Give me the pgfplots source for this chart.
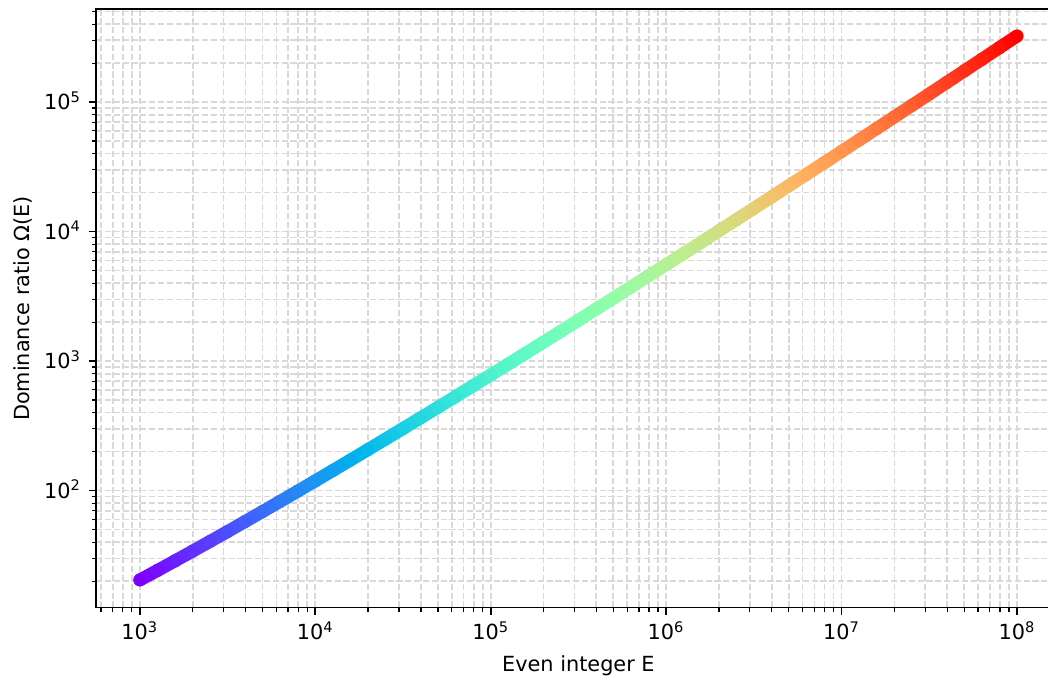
\documentclass[border=0pt]{standalone}
\usepackage{pgfplots}
\usepackage{pgfplotstable}
\pgfplotsset{compat=1.18}
\usepackage{fontspec}
\setmainfont{DejaVu Sans}

\pgfplotstableread{
L E O
3.0 1000 20.43
3.1 1258.9 24.18
3.2 1584.9 28.68
3.3 1995.3 34.07
3.4 2511.9 40.56
3.5 3162.3 48.35
3.6 3981.1 57.74
3.7 5011.9 69.04
3.8 6309.6 82.67
3.9 7943.3 99.12
4.0 10000 119.0
4.1 12589 143.0
4.2 15849 172.1
4.3 19953 207.3
4.4 25119 249.9
4.5 31623 301.6
4.6 39811 364.4
4.7 50119 440.6
4.8 63096 533.1
4.9 79433 645.7
5.0 100000 782.6
5.1 125893 949.3
5.2 158489 1152.2
5.3 199526 1399.6
5.4 251189 1701.2
5.5 316228 2069.2
5.6 398107 2518.3
5.7 501187 3066.7
5.8 630957 3736.6
5.9 794328 4555.6
6.0 1000000 5556.9
6.1 1258925 6781.9
6.2 1584893 8281.1
6.3 1995262 10116.7
6.4 2511886 12365
6.5 3162278 15120
6.6 3981072 18497
6.7 5011872 22638
6.8 6309573 27717
6.9 7943282 33950
7.0 10000000 41601
7.1 12589254 50996
7.2 15848932 62536
7.3 19952623 76715
7.4 25118864 94146
7.5 31622777 115567
7.6 39810717 141917
7.7 50118723 174329
7.8 63095734 214213
7.9 79432823 263303
8.0 100000000 323740
}\data

\pgfplotsset{
  colormap={mplrainbow}{
    rgb=(0.5,0,1) rgb=(0.375,0.1951,0.9952) rgb=(0.25,0.3827,0.9808)
    rgb=(0.125,0.5556,0.9569) rgb=(0,0.7071,0.9239) rgb=(0.125,0.8315,0.8819)
    rgb=(0.25,0.9239,0.8315) rgb=(0.375,0.9808,0.7730) rgb=(0.5,1,0.7071)
    rgb=(0.625,0.9808,0.6344) rgb=(0.75,0.9239,0.5556) rgb=(0.875,0.8315,0.4714)
    rgb=(1,0.7071,0.3827) rgb=(1,0.5556,0.2903) rgb=(1,0.3827,0.1951)
    rgb=(1,0.1951,0.0980) rgb=(1,0,0)}
}

\begin{document}
\begin{tikzpicture}
\begin{axis}[
  name=ax,
  xmode=log, ymode=log,
  scale only axis,
  width=463.1pt, height=287.2pt,
  xmin=562.3, xmax=1.7783e8,
  ymin=12.49, ymax=5.21e5,
  axis line style={line width=0.8pt},
  tick align=outside, tick pos=left,
  major tick length=3.5pt, minor tick length=2pt,
  major tick style={line width=0.8pt, black},
  minor tick style={line width=0.6pt, black},
  xtick={1e3,1e4,1e5,1e6,1e7,1e8},
  xticklabels={10\textsuperscript{3},10\textsuperscript{4},10\textsuperscript{5},10\textsuperscript{6},10\textsuperscript{7},10\textsuperscript{8}},
  ytick={1e2,1e3,1e4,1e5},
  yticklabels={10\textsuperscript{2},10\textsuperscript{3},10\textsuperscript{4},10\textsuperscript{5}},
  minor xtick={600,700,800,900,2000,3000,4000,5000,6000,7000,8000,9000,
    2e4,3e4,4e4,5e4,6e4,7e4,8e4,9e4,2e5,3e5,4e5,5e5,6e5,7e5,8e5,9e5,
    2e6,3e6,4e6,5e6,6e6,7e6,8e6,9e6,2e7,3e7,4e7,5e7,6e7,7e7,8e7,9e7},
  minor ytick={20,30,40,50,60,70,80,90,200,300,400,500,600,700,800,900,
    2000,3000,4000,5000,6000,7000,8000,9000,2e4,3e4,4e4,5e4,6e4,7e4,8e4,9e4,
    2e5,3e5,4e5,5e5},
  xticklabel style={anchor=base, inner sep=0pt, yshift=-12pt, font=\fontsize{10}{12}\selectfont},
  yticklabel style={anchor=base east, inner sep=0pt, xshift=-3.5pt, yshift=-3.6pt, font=\fontsize{10}{12}\selectfont},
  grid=both,
  major grid style={line width=0.8pt, dash pattern=on 2.96pt off 1.28pt, color=black!15},
  minor grid style={line width=0.8pt, dash pattern=on 2.96pt off 1.28pt, color=black!15},
  xlabel={Even integer E},
  ylabel={Dominance ratio Ω(E)},
  xlabel style={at={(axis description cs:0.5,0)}, anchor=base, inner sep=0pt, yshift=-30.7pt, font=\fontsize{10}{12}\selectfont},
  ylabel style={at={(axis description cs:0,0.5)}, anchor=base, inner sep=0pt, yshift=31.7pt, font=\fontsize{10}{12}\selectfont},
  colormap name=mplrainbow,
]
\addplot[mesh, shader=flat, line width=6.2pt, line cap=round, point meta=explicit]
  table[x=E, y=O, meta=L] {\data};
\addplot[scatter, only marks, mark=*, mark size=2.9pt, point meta=explicit,
  scatter/use mapped color={draw=mapped color, fill=mapped color}]
  table[x=E, y=O, meta=L] {\data};
\end{axis}
\pgfresetboundingbox
\path[use as bounding box] ([xshift=-46.08pt, yshift=-35.2pt]ax.south west) rectangle ([xshift=456.96pt, yshift=4.46pt]ax.north west);
\end{tikzpicture}
\end{document}
